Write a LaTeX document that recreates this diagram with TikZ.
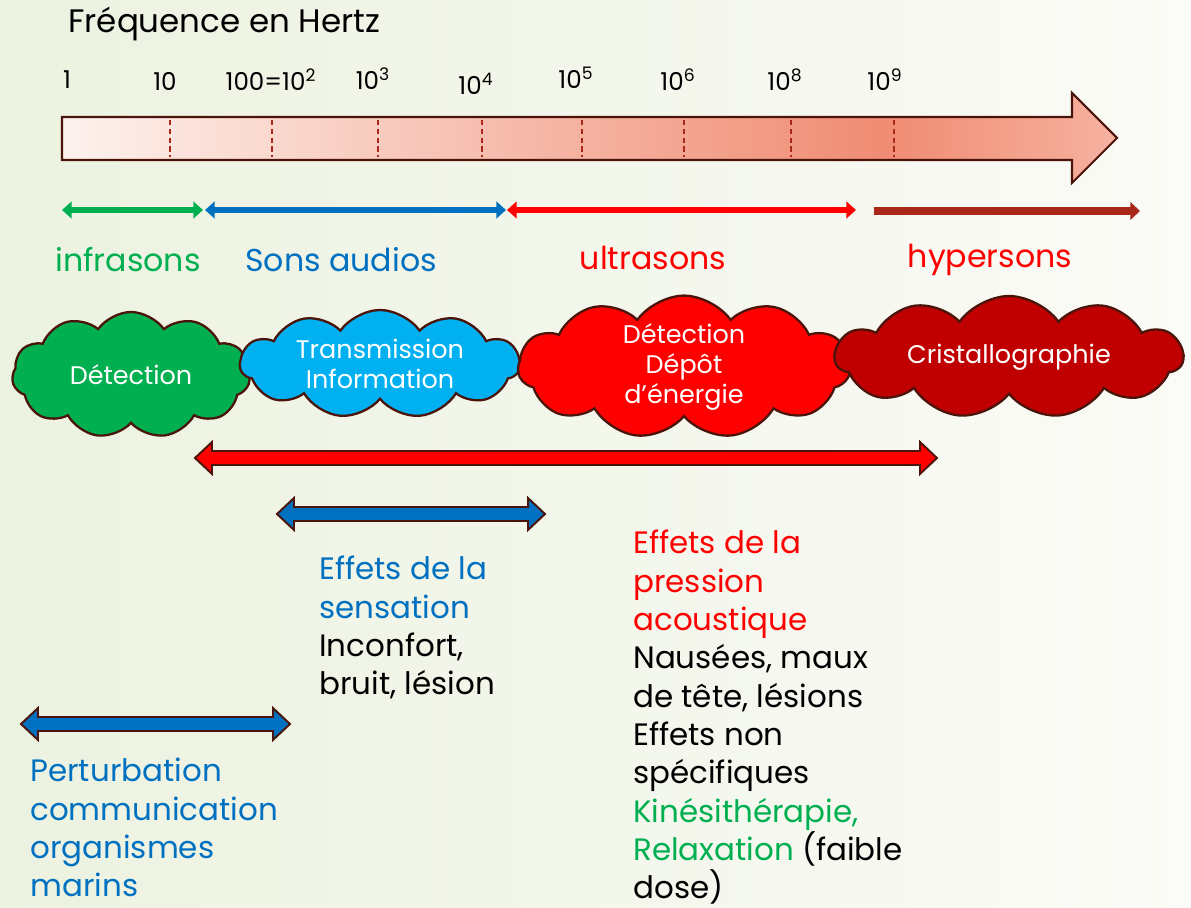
\documentclass[tikz,border=0pt]{standalone}
\usepackage{fontspec}
\setmainfont{Poppins}
\usetikzlibrary{arrows.meta, shapes.symbols}

\definecolor{fgreen}{RGB}{0,176,80}
\definecolor{fblue}{RGB}{0,112,192}
\definecolor{fred}{RGB}{255,0,0}
\definecolor{fdark}{RGB}{192,0,0}
\definecolor{fsky}{RGB}{0,176,240}
\definecolor{fbrown}{RGB}{75,20,10}
\definecolor{frust}{RGB}{170,40,25}
\definecolor{arrA}{RGB}{253,242,238}
\definecolor{arrB}{RGB}{240,140,115}
\definecolor{arrC}{RGB}{246,178,160}
\definecolor{bgL}{RGB}{236,242,224}
\definecolor{bgR}{RGB}{251,251,247}
\pgfdeclarehorizontalshading{freqshade}{100bp}{color(0bp)=(arrA); color(25bp)=(arrA); color(64bp)=(arrB); color(75bp)=(arrC); color(100bp)=(arrC)}

% fleche double pleine : x1, x2, y, couleur
\newcommand{\blockarrow}[4]{%
  \draw[blockline, fill=#4] (#1,#3) -- (#1+17,#3-16) -- (#1+17,#3-7) -- (#2-17,#3-7) -- (#2-17,#3-16) -- (#2,#3)
    -- (#2-17,#3+16) -- (#2-17,#3+7) -- (#1+17,#3+7) -- (#1+17,#3+16) -- cycle;}

\begin{document}
\begin{tikzpicture}[x=0.02cm, y=-0.02cm, %1 unite = 1 pixel, y vers le bas
    blockline/.style={draw=fbrown, line width=1.1pt, line join=miter},
    spanline/.style={line width=3.4pt, {Triangle[width=9.5pt,length=5.5pt]}-{Triangle[width=9.5pt,length=5.5pt]}},
    puff/.style={cloud, cloud puffs=11, cloud puff arc=110, cloud ignores aspect, draw=fbrown, line width=1.3pt,
        text=white, align=center, inner sep=0pt, font=\fontsize{14.5}{17}\selectfont},
    lab/.style={anchor=base, inner sep=0pt, font=\fontsize{18}{21}\selectfont},
    txt/.style={anchor=north west, align=left, inner sep=0pt, font=\fontsize{17.6}{21.8}\selectfont}]

    \shade[left color=bgL, right color=bgR] (0,0) rectangle (1191,908); %fond
    \node[anchor=base west, inner sep=0pt, font=\fontsize{18.5}{21}\selectfont] (titre) at (68,33) {Fréquence en Hertz};

    % grande fleche des frequences
    \draw[shade, shading=freqshade, draw=fbrown, line width=1.2pt]
        (62,117) -- (1072,117) -- (1072,93) -- (1117,138) -- (1072,183) -- (1072,160) -- (62,160) -- cycle;
    \foreach \x in {170,272,378,482,582,684,791,894}
        \draw[densely dashed, draw=frust, line width=0.6pt] (\x,120) -- (\x,157);
    \foreach \x/\t/\yb [count=\i] in {67/1/89, 165/10/91, 271/100=10\textsuperscript{2}/91, 373/10\textsuperscript{3}/90,
        476/10\textsuperscript{4}/95, 576/10\textsuperscript{5}/89, 678/10\textsuperscript{6}/91,
        785/10\textsuperscript{8}/91, 885/10\textsuperscript{9}/91}
        \node[anchor=base, inner sep=0pt, font=\fontsize{14}{16}\selectfont] (f\i) at (\x,\yb) {\t};

    % domaines
    \coordinate (g1) at (62,210);  \coordinate (g2) at (203,210);
    \coordinate (b1) at (205,210); \coordinate (b2) at (506,210);
    \coordinate (r1) at (507,210); \coordinate (r2) at (856,210);
    \coordinate (h1) at (874,211); \coordinate (h2) at (1140,211);
    \draw[spanline, fgreen] (g1) -- (g2);
    \draw[spanline, fblue] (b1) -- (b2);
    \draw[spanline, fred] (r1) -- (r2);
    \draw[line width=4pt, frust, -{Triangle[width=10pt,length=5.5pt]}] (h1) -- (h2);
    \node[lab, fgreen] (infra) at (128,272) {infrasons};
    \node[lab, fblue] (audio) at (341,272) {Sons audios};
    \node[lab, fred] (ultra) at (653,270) {ultrasons};
    \node[lab, fred] (hyper) at (990,268) {hypersons};

    % nuages
    \node[puff, fill=fgreen, minimum width=4.76cm, minimum height=2.52cm] (n1) at (131,375) {Détection};
    \node[puff, fill=fsky, minimum width=5.6cm, minimum height=2.16cm] (n2) at (380,364) {Transmission\\Information};
    \node[puff, fill=fred, minimum width=6.64cm, minimum height=2.44cm] (n3) at (684,367) {Détection\\Dépôt\\d’énergie};
    \node[puff, fill=fdark, minimum width=6.96cm, minimum height=2.44cm] (n4) at (1009,357) {Cristallographie};

    % effets
    \blockarrow{195}{937}{458}{fred}
    \blockarrow{277}{545}{514}{fblue}
    \blockarrow{21}{290}{724}{fblue}

    \node[txt] (sens) at (319,556) {\textcolor{fblue}{Effets de la}\\\textcolor{fblue}{sensation}\\Inconfort,\\bruit, lésion};
    \node[txt] (press) at (633,530) {\textcolor{fred}{Effets de la}\\\textcolor{fred}{pression}\\\textcolor{fred}{acoustique}\\
        Nausées, maux\\de tête, lésions\\Effets non\\spécifiques\\\textcolor{fgreen}{Kinésithérapie,}\\
        \textcolor{fgreen}{Relaxation} (faible\\dose)};
    \node[txt, fblue] (marin) at (30,758) {Perturbation\\communication\\organismes\\marins};
\end{tikzpicture}
\end{document}
